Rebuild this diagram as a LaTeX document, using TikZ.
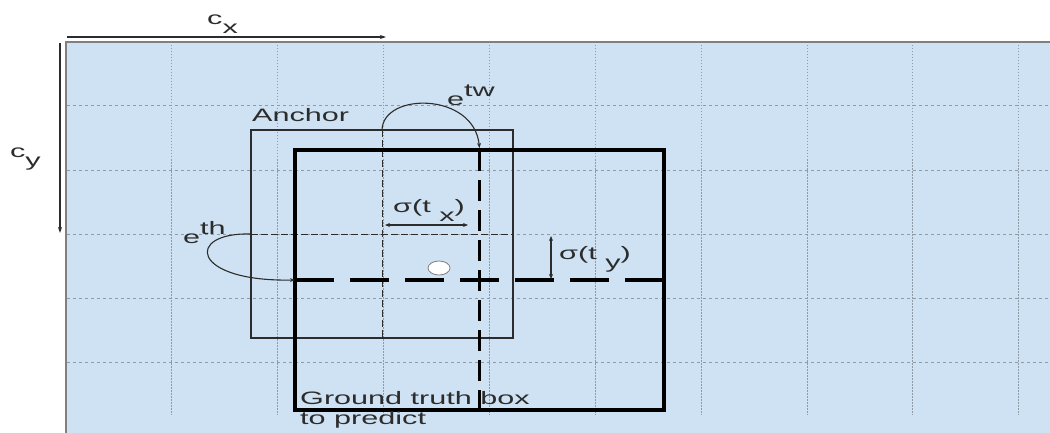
\documentclass[tikz,border=0pt]{standalone}
\usepackage{fontspec}
\setmainfont{Liberation Sans}[FakeStretch=1.7]
\usetikzlibrary{arrows.meta, shapes.geometric, positioning}
\definecolor{sheet}{HTML}{CFE2F3}
\definecolor{gridgray}{HTML}{8E9AA6}
\definecolor{ink}{HTML}{2C2C2C}
\newcommand{\lo}[1]{\raisebox{-9pt}{#1}}
\newcommand{\hi}[1]{\raisebox{9pt}{#1}}
\tikzset{
  lbl/.style       = {font=\fontsize{18}{20}\selectfont, text=ink, inner sep=0pt},
  gridv/.style     = {gridgray, line width=1pt, dash pattern=on 1.5pt off 1.5pt},
  gridh/.style     = {gridgray, line width=1pt, dash pattern=on 3pt off 3pt},
  anchorbox/.style = {rectangle, draw=ink, line width=1.2pt, minimum width=262pt,
                      minimum height=208pt, inner sep=0pt, outer sep=0pt},
  gtbox/.style     = {rectangle, draw=black, line width=3.5pt, minimum width=369pt,
                      minimum height=260pt, inner sep=0pt, outer sep=0pt},
  centremark/.style= {ellipse, draw=gray, fill=white, line width=0.8pt,
                      minimum width=22pt, minimum height=14pt, inner sep=0pt},
  thindash/.style  = {ink, line width=1pt, dash pattern=on 7pt off 3pt},
  thickdash/.style = {black, line width=3.5pt, dash pattern=on 39pt off 16pt},
  thickdashv/.style= {black, line width=3.5pt, dash pattern=on 21pt off 9pt},
  axisarrow/.style = {ink, line width=1.3pt, -{Stealth[length=6pt,width=4pt]}},
  arcarrow/.style  = {ink, line width=1.1pt, -{Stealth[length=5pt,width=4pt]}},
  dimarrow/.style  = {ink, line width=1.1pt,
                      {Stealth[length=5pt,width=4pt]}-{Stealth[length=5pt,width=4pt]}},
}

\begin{document}
\begin{tikzpicture}[x=1pt, y=-1pt]
  \useasboundingbox (0,0) rectangle (1050,433);

  %% sheet and grid
  \fill[sheet] (66,42) rectangle (1050,433);
  \foreach \gx in {171,277,383,489,595,701,807,912,1018}
    \draw[gridv] (\gx,42) -- (\gx,415);
  \foreach \gy in {106,171,234,298,362}
    \draw[gridh] (67,\gy) -- (1050,\gy);
  \draw[gray, line width=1.3pt] (66,433) -- (66,42) -- (1050,42);

  %% axes
  \coordinate (cx0) at (67,37);
  \coordinate (cx1) at (386,37);
  \coordinate (cy0) at (60,43);
  \coordinate (cy1) at (60,233);
  \draw[axisarrow] (cx0) -- (cx1);
  \draw[axisarrow] (cy0) -- (cy1);
  \node[lbl, anchor=base west] (cx) at (207,25) {c\lo{x}};
  \node[lbl, anchor=base west] (cy) at (10,158) {c\lo{y}};

  %% anchor box
  \node[anchorbox] (anc) at (382,234) {};
  \draw[thindash] (anc.north) -- (anc.south);
  \draw[thindash] (anc.west) -- (anc.east);
  \node[lbl, anchor=base west] (anclbl) at (252,122) {Anchor};

  %% ground truth box
  \node[gtbox] (gt) at (479.5,280) {};
  \draw[thickdash] (gt.west) -- (gt.east);
  \draw[thickdashv] (gt.north) -- (gt.south);
  \node[lbl, anchor=north west, align=left] (gtlbl) at (300,391)
       {Ground truth box\\to predict};
  \node[centremark] (ctr) at (439,268) {};

  %% scale arcs
  \draw[arcarrow] (anc.north) .. controls (383,92) and (474,92) .. ([yshift=2pt]gt.north);
  \node[lbl, anchor=base west] (etw) at (447,106) {e\hi{tw}};
  \draw[arcarrow] (anc.west) .. controls (185,232) and (190,282) .. (gt.west);
  \node[lbl, anchor=base west] (eth) at (183,243) {e\hi{th}};

  %% offsets
  \coordinate (sx0) at (385,225);
  \coordinate (sx1) at (468,225);
  \draw[dimarrow] (sx0) -- (sx1);
  \node[lbl, anchor=base west] (stx) at (393,212) {σ(t \lo{x})};
  \coordinate (sy0) at (551,236);
  \coordinate (sy1) at (551,279);
  \draw[dimarrow] (sy1) -- (sy0);
  \node[lbl, anchor=base west] (sty) at (559,259) {σ(t \lo{y})};
\end{tikzpicture}
\end{document}
